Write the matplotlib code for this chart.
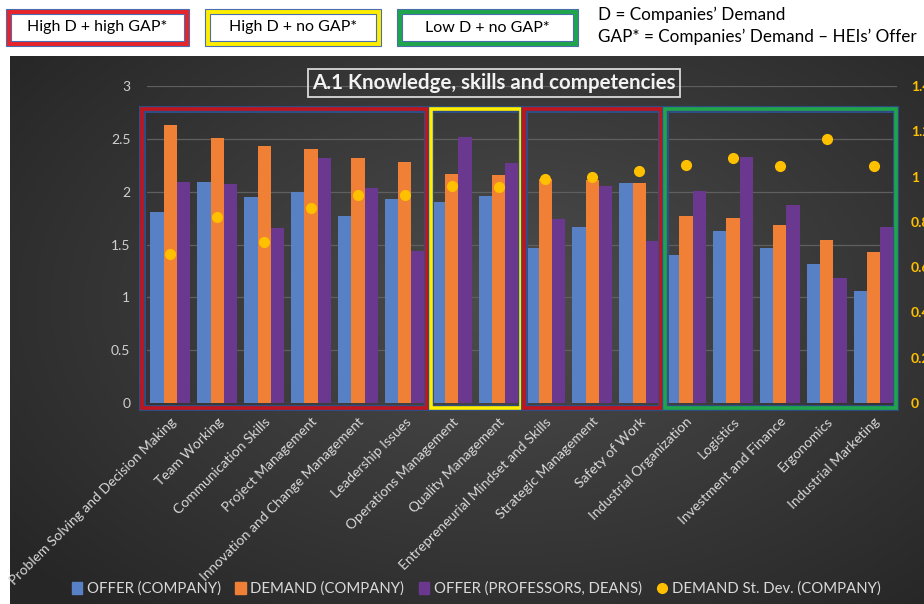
import numpy as np
import matplotlib
matplotlib.use("Agg")
import matplotlib.pyplot as plt
from matplotlib.patches import Rectangle, Patch
from matplotlib.lines import Line2D

plt.rcParams['font.family'] = ['Lato', 'DejaVu Sans']

# data
categories = [
    "Problem Solving and Decision Making", "Team Working", "Communication Skills",
    "Project Management", "Innovation and Change Management", "Leadership Issues",
    "Operations Management", "Quality Management", "Entrepreneurial Mindset and Skills",
    "Strategic Management", "Safety of Work", "Industrial Organization", "Logistics",
    "Investment and Finance", "Ergonomics", "Industrial Marketing",
]
offer_company = [1.81, 2.09, 1.95, 2.00, 1.77, 1.93, 1.90, 1.96, 1.47, 1.67, 2.08,
                 1.40, 1.63, 1.47, 1.32, 1.06]
demand_company = [2.63, 2.51, 2.43, 2.40, 2.32, 2.28, 2.17, 2.16, 2.12, 2.11, 2.08,
                  1.77, 1.75, 1.68, 1.54, 1.43]
offer_professors = [2.09, 2.07, 1.66, 2.32, 2.03, 1.44, 2.52, 2.27, 1.74, 2.05, 1.53,
                    2.01, 2.33, 1.87, 1.18, 1.67]
demand_std = [0.66, 0.82, 0.71, 0.86, 0.92, 0.92, 0.96, 0.955, 0.99, 1.00, 1.025,
              1.05, 1.08, 1.045, 1.165, 1.045]

# groups: (first index, last index, colour)
group_first = [0, 6, 8, 11]
group_last = [5, 7, 10, 15]
group_colors = ['#c0151d', '#ffee00', '#c0151d', '#1fa64a']

left_ticks = [0, 0.5, 1, 1.5, 2, 2.5, 3]
right_ticks = [0, 0.2, 0.4, 0.6, 0.8, 1, 1.2, 1.4]

legend_boxes = ["High D + high GAP*", "High D + no GAP*", "Low D + no GAP*"]
legend_box_colors = ['#e8232a', '#ffee00', '#1fa64a']

W, H = 924, 604
fig = plt.figure(figsize=(W / 100, H / 100), dpi=100)
fig.patch.set_facecolor('white')

# dark radial background panel
bg = fig.add_axes([10 / W, 0, (W - 10) / W, (H - 56) / H])
yy, xx = np.mgrid[0:1:300j, 0:1:500j]
r = np.sqrt(((xx - 0.55) / 0.75) ** 2 + ((yy - 0.45) / 0.8) ** 2)
shade = np.clip(0.30 - 0.16 * r, 0.15, 0.30)
bg.imshow(np.dstack([shade] * 3), aspect='auto', extent=[0, 1, 0, 1])
bg.set_axis_off()

ax = fig.add_axes([147 / W, (H - 403) / H, 750 / W, 317 / H])
ax.patch.set_alpha(0)
x = np.arange(len(categories))
bw = 0.285
ax.bar(x - bw, offer_company, bw, color='#5880c4', zorder=3)
ax.bar(x, demand_company, bw, color='#f08035', zorder=3)
ax.bar(x + bw, offer_professors, bw, color='#6a388f', zorder=3)

ax.set_xlim(-0.5, len(categories) - 0.5)
ax.set_ylim(0, 3)
ax.set_yticks(left_ticks)
ax.set_yticklabels([f"{t:g}" for t in left_ticks])
ax.tick_params(axis='y', length=0, pad=12, colors='#d0d0d0', labelsize=10)
ax.set_xticks(x)
ax.set_xticklabels(categories, rotation=45, ha='right', rotation_mode='anchor',
                   color='#d9d9d9', fontsize=10)
ax.tick_params(axis='x', length=0, pad=9)
for s in ax.spines.values():
    s.set_visible(False)
for t in left_ticks:
    ax.axhline(t, color='#5f5f5f', lw=0.9, zorder=1, xmin=-0.01)

ax2 = ax.twinx()
ax2.set_ylim(0, 1.4)
ax2.plot(x, demand_std, 'o', color='#ffc000', markersize=7, zorder=5)
ax2.set_yticks(right_ticks)
ax2.set_yticklabels([f"{t:g}" for t in right_ticks])
ax2.tick_params(axis='y', length=0, pad=10, colors='#ffc000', labelsize=10)
for lab in ax2.get_yticklabels():
    lab.set_fontweight('bold')
for s in ax2.spines.values():
    s.set_visible(False)

# group frames
for a, b, c in zip(group_first, group_last, group_colors):
    x0 = a - 0.6 if a == 0 else a - 0.45
    x1 = b + 0.47
    for ec, lw in (('#2f4f8a', 4.2), (c, 2.6)):
        ax.add_patch(Rectangle((x0, -0.045), x1 - x0, 2.825, fill=False, ec=ec, lw=lw,
                               zorder=6, clip_on=False))
    ax.add_patch(Rectangle((x0 + 0.06, -0.02), x1 - x0 - 0.12, 2.775, fill=False,
                           ec='#2f4f8a', lw=0.7, zorder=6, clip_on=False))

fig.text(494 / W, 1 - 83 / H, "A.1 Knowledge, skills and competencies", ha='center',
         va='center', color='#f2f2f2', fontsize=14.8, fontweight='bold',
         bbox=dict(boxstyle='square,pad=0.2', fc='none', ec='#d9d9d9', lw=1.3))

handles = [Patch(color='#5880c4'), Patch(color='#f08035'), Patch(color='#6a388f'),
           Line2D([], [], ls='none', marker='o', color='#ffc000', markersize=7)]
labels = ["OFFER (COMPANY)", "DEMAND (COMPANY)", "OFFER (PROFESSORS, DEANS)",
          "DEMAND St. Dev. (COMPANY)"]
fig.legend(handles, labels, loc='center', bbox_to_anchor=(476 / W, 1 - 589 / H), ncol=4,
           frameon=False, fontsize=10.7, labelcolor='#d9d9d9', handlelength=0.7,
           handleheight=0.9, handletextpad=0.3, columnspacing=1.0)

# top legend boxes
box_x = [6, 205, 397]
box_w = [183, 176, 181]
for bx, bwid, txt, c in zip(box_x, box_w, legend_boxes, legend_box_colors):
    fig.patches.append(Rectangle((bx / W, 1 - 46 / H), bwid / W, 37 / H, fc=c, ec='#4a6fb0',
                                 lw=0.8, transform=fig.transFigure))
    fig.patches.append(Rectangle(((bx + 5) / W, 1 - 41 / H), (bwid - 10) / W, 27 / H,
                                 fc='white', ec='#4a6fb0', lw=0.8, transform=fig.transFigure))
    fig.text((bx + bwid / 2) / W, 1 - 27.5 / H, txt, ha='center', va='center', fontsize=11.5,
             color='black')

fig.text(598 / W, 1 - 15 / H, "D = Companies\u2019 Demand", ha='left', va='center',
         fontsize=12.3, color='black')
fig.text(598 / W, 1 - 37 / H, "GAP* = Companies\u2019 Demand \u2013 HEIs\u2019 Offer",
         ha='left', va='center', fontsize=12.3, color='black')

fig.savefig('out.png', dpi=100)
